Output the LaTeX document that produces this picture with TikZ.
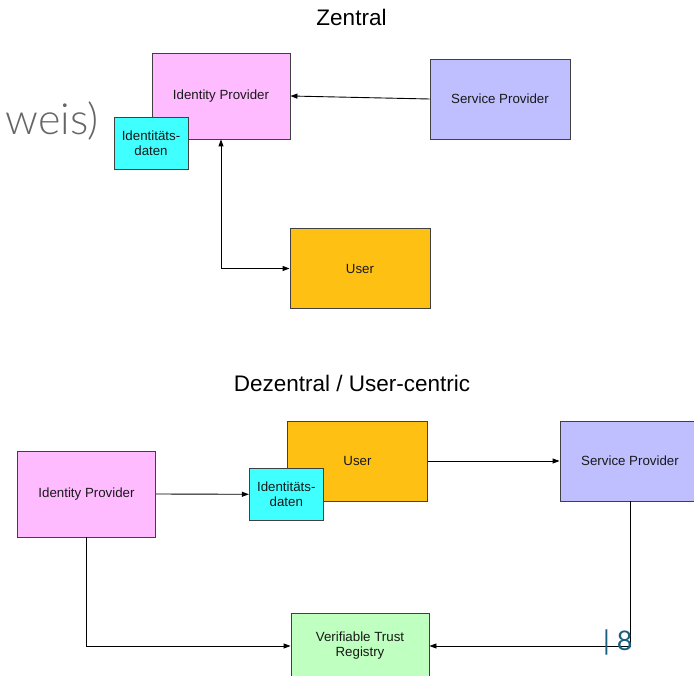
\documentclass[tikz,border=0pt]{standalone}
\usepackage{fontspec}
\setmainfont{Liberation Sans}
\newfontfamily\slidefont{Lato Light}
\newfontfamily\pagefont{Lato}
\usetikzlibrary{arrows.meta}

\definecolor{idpPink}{HTML}{FFBBFF}
\definecolor{spBlue}{HTML}{BFBFFF}
\definecolor{userOrange}{HTML}{FFC014}
\definecolor{dataCyan}{HTML}{40FFFF}
\definecolor{trustGreen}{HTML}{BFFFBF}
\definecolor{pageTeal}{HTML}{1B5F80}

\begin{document}
\begin{tikzpicture}[x=1pt,y=-1pt,
  box/.style={draw=black!75, line width=0.9pt, fill=#1, inner sep=2pt,
    align=center, text=black!90, font=\fontsize{13.3}{15}\selectfont},
  bigbox/.style={box=#1, minimum width=140pt, minimum height=80pt},
  databox/.style={box=dataCyan, minimum width=74pt, minimum height=52pt},
  heading/.style={anchor=base, inner sep=0pt, font=\fontsize{22.5}{26}\selectfont},
  link/.style={draw=black, line width=0.9pt, -{Triangle[length=7pt,width=5pt]}}]

  % Fix the frame of the slide
  \useasboundingbox (0,0) rectangle (694,676);
  \clip (0,0) rectangle (694,676);

  % Leftover of the slide title
  \node[anchor=base east, inner sep=0pt, text=black!60,
    font=\slidefont\fontsize{43}{46}\selectfont] (slidetitle) at (99,135) {weis)};

  % ---- Zentral ----
  \node[heading] (zentral) at (351.5,26) {Zentral};

  % Draw the boxes
  \node[bigbox=idpPink, minimum width=138pt, minimum height=86pt] (idpA) at (221,96) {Identity Provider};
  \node[bigbox=spBlue] (spA) at (500,99) {Service Provider};
  \node[bigbox=userOrange] (userA) at (360,268.5) {User};
  \node[databox] (dataA) at (151,143) {Identitäts-\\daten};

  % Draw the connectors
  \draw[link] (spA.west) -- (idpA.east);
  \draw[link, {Triangle[length=7pt,width=5pt]}-{Triangle[length=7pt,width=5pt]}]
    (idpA.south) |- (userA.west);

  % ---- Dezentral / User-centric ----
  \node[heading] (dezentral) at (352,391.5) {Dezentral / User-centric};

  % Draw the boxes
  \node[bigbox=idpPink, minimum width=138pt, minimum height=86pt] (idpB) at (86.5,494) {Identity Provider};
  \node[bigbox=userOrange] (userB) at (357.5,461) {User};
  \node[databox] (dataB) at (286.3,494.3) {Identitäts-\\daten};
  \node[bigbox=spBlue] (spB) at (630,461) {Service Provider};
  \node[bigbox=trustGreen, minimum width=138pt, minimum height=66pt] (trustB) at (360,646) {Verifiable Trust\\Registry};

  % Draw the connectors
  \draw[link] (idpB.east) -- (dataB.west);
  \draw[link] (userB.east) -- (spB.west);
  \draw[link] (idpB.south) |- (trustB.west);
  \draw[link] (spB.south) |- (trustB.east);

  % Page number
  \node[anchor=base west, inner sep=0pt, text=pageTeal,
    font=\pagefont\fontsize{27}{30}\selectfont] (pagenum) at (603,650) {| 8};

\end{tikzpicture}
\end{document}
